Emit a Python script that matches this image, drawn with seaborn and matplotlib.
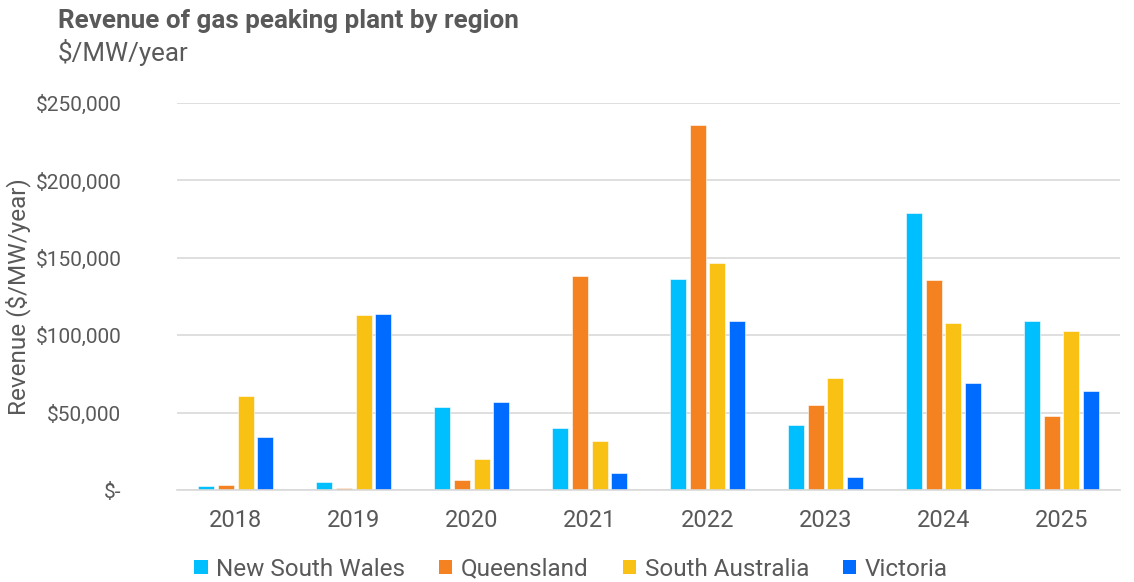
import matplotlib
matplotlib.use("Agg")
import matplotlib.pyplot as plt
from matplotlib.ticker import FuncFormatter
from matplotlib.patches import Patch
import seaborn as sns
import pandas as pd

years = ["2018", "2019", "2020", "2021", "2022", "2023", "2024", "2025"]
regions = ["New South Wales", "Queensland", "South Australia", "Victoria"]
nsw = [2800, 5000, 53400, 40300, 136100, 41800, 179200, 109200]
qld = [3000, 1600, 6500, 138200, 235800, 54900, 135400, 47600]
sa = [60700, 112900, 19800, 31500, 146400, 72600, 107700, 102500]
vic = [34400, 113600, 57000, 10800, 109200, 8200, 68900, 63700]
colors = ["#00BFFF", "#F58220", "#F8C114", "#006CFF"]

rows = []
for region, vals in zip(regions, [nsw, qld, sa, vic]):
    for yr, v in zip(years, vals):
        rows.append({"Year": yr, "Region": region, "Revenue": v})
df = pd.DataFrame(rows)

sns.set_theme(style="white")
plt.rcParams["font.family"] = ["Roboto", "DejaVu Sans"]
grey = "#595959"

fig = plt.figure(figsize=(11.34, 5.82), dpi=100)
ax = fig.add_axes([0.156, 0.158, 0.832, 0.665])

sns.barplot(data=df, x="Year", y="Revenue", hue="Region", order=years,
            hue_order=regions, palette=colors, width=0.668, gap=0.19,
            edgecolor="white", linewidth=0.4, saturation=1, legend=False, ax=ax)

ax.set_ylim(0, 250000)
ax.set_xlim(-0.5, 7.5)
ax.set_yticks([0, 50000, 100000, 150000, 200000, 250000])
ax.yaxis.set_major_formatter(FuncFormatter(lambda v, p: "$-" if v == 0 else f"${v:,.0f}"))
ax.grid(axis="y", color="#D9D9D9", linewidth=1.2)
ax.set_axisbelow(True)
for s in ["top", "right", "left"]:
    ax.spines[s].set_visible(False)
ax.spines["bottom"].set_color("#D9D9D9")
ax.spines["bottom"].set_linewidth(1.2)
ax.tick_params(axis="y", length=0, pad=40, labelsize=15, labelcolor=grey)
ax.tick_params(axis="x", length=0, pad=14, labelsize=17, labelcolor=grey)
ax.set_xlabel("")
ax.set_ylabel("Revenue ($/MW/year)", fontsize=17.5, color=grey)
ax.yaxis.set_label_coords(-0.155, 0.5)

fig.text(58 / 1134, 1 - 21 / 582, "Revenue of gas peaking plant by region",
         fontsize=18.7, fontweight="bold", color=grey, va="center", ha="left")
fig.text(58 / 1134, 1 - 52 / 582, "$/MW/year",
         fontsize=18.7, color=grey, va="center", ha="left")

handles = [Patch(facecolor=c, edgecolor="none") for c in colors]
fig.legend(handles, regions, loc="center", bbox_to_anchor=(571 / 1134, 1 - 569 / 582),
           ncol=4, frameon=False, fontsize=17.5, labelcolor=grey,
           handlelength=0.55, handleheight=0.55, handletextpad=0.35, columnspacing=1.4)

fig.savefig("out.png", dpi=100)
